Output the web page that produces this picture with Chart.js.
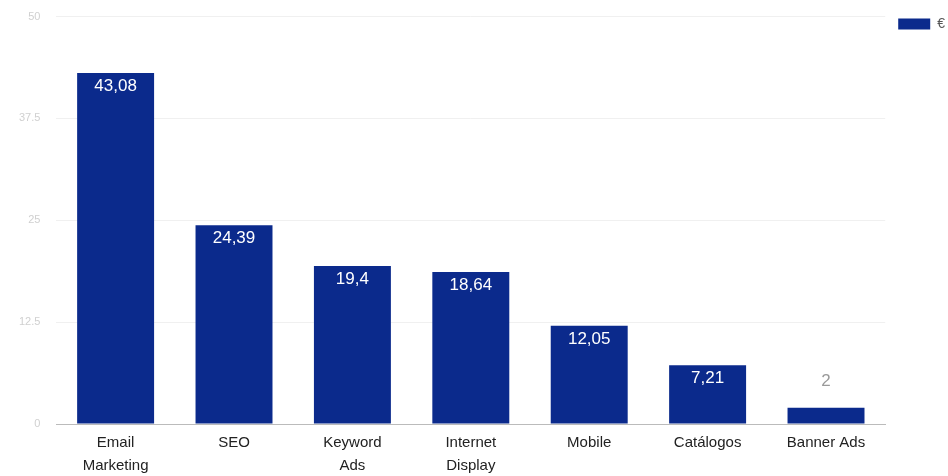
<!DOCTYPE html>
<html>
<head>
<meta charset="utf-8">
<script src="https://cdn.jsdelivr.net/npm/chart.js@4"></script>
<style>
  html, body { margin: 0; padding: 0; background: #fff; overflow: hidden; }
  #wrap { width: 955px; height: 476px; }
</style>
</head>
<body>
<div id="wrap"><canvas id="grafico"></canvas></div>
<script>
const categorias = [["Email", "Marketing"], "SEO", ["Keyword", "Ads"], ["Internet", "Display"], "Mobile", "Catálogos", "Banner Ads"];
const valores = [43.08, 24.39, 19.4, 18.64, 12.05, 7.21, 2];
const serie = "€";
const ticksY = [0, 12.5, 25, 37.5, 50];

// etiquetas de valor sobre las barras
const etiquetas = {
    id: "etiquetas",
    afterDatasetsDraw(chart) {
        const ctx = chart.ctx;
        const meta = chart.getDatasetMeta(0);
        ctx.save();
        ctx.textAlign = "center";
        ctx.textBaseline = "middle";
        ctx.font = "17px 'Liberation Sans', Arial, sans-serif";
        meta.data.forEach((bar, i) => {
            const txt = String(valores[i]).replace(".", ",");
            const alto = bar.base - bar.y;
            if (alto > 30) {
                ctx.fillStyle = "#ffffff";
                ctx.fillText(txt, bar.x, bar.y + 13);
            } else {
                ctx.fillStyle = "#9a9a9a";
                ctx.fillText(txt, bar.x, bar.y - 26);
            }
        });
        ctx.restore();
    }
};

new Chart(document.getElementById("grafico"), {
    type: "bar",
    data: {
        labels: categorias,
        datasets: [{
            label: serie,
            data: valores,
            backgroundColor: "#0b2a8c",
            borderWidth: 0,
            categoryPercentage: 0.65,
            barPercentage: 1
        }]
    },
    options: {
        responsive: true,
        maintainAspectRatio: false,
        animation: false,
        layout: { padding: { top: 4, right: 0, left: 9, bottom: -1 } },
        plugins: {
            legend: {
                position: "right",
                align: "start",
                labels: {
                    boxWidth: 32,
                    boxHeight: 11,
                    padding: 13,
                    color: "#555",
                    font: { size: 14, family: "'Liberation Sans', Arial, sans-serif" }
                }
            },
            tooltip: { enabled: false }
        },
        scales: {
            x: {
                grid: { display: false },
                border: { color: "#bbbbbb" },
                ticks: {
                    padding: 0,
                    color: "#222",
                    maxRotation: 0,
                    font: { size: 15, lineHeight: 1.5, family: "'Liberation Sans', Arial, sans-serif" }
                }
            },
            y: {
                min: 0,
                max: 50,
                afterBuildTicks(axis) {
                    axis.ticks = ticksY.map(v => ({ value: v }));
                },
                grid: { color: "#f0f0f0", drawTicks: true, tickLength: 6, tickColor: "rgba(0,0,0,0)" },
                border: { display: false },
                ticks: {
                    padding: 10,
                    color: "#d0d0d0",
                    font: { size: 11, family: "'Liberation Sans', Arial, sans-serif" },
                    callback: v => String(v)
                }
            }
        }
    },
    plugins: [etiquetas]
});
</script>
</body>
</html>
